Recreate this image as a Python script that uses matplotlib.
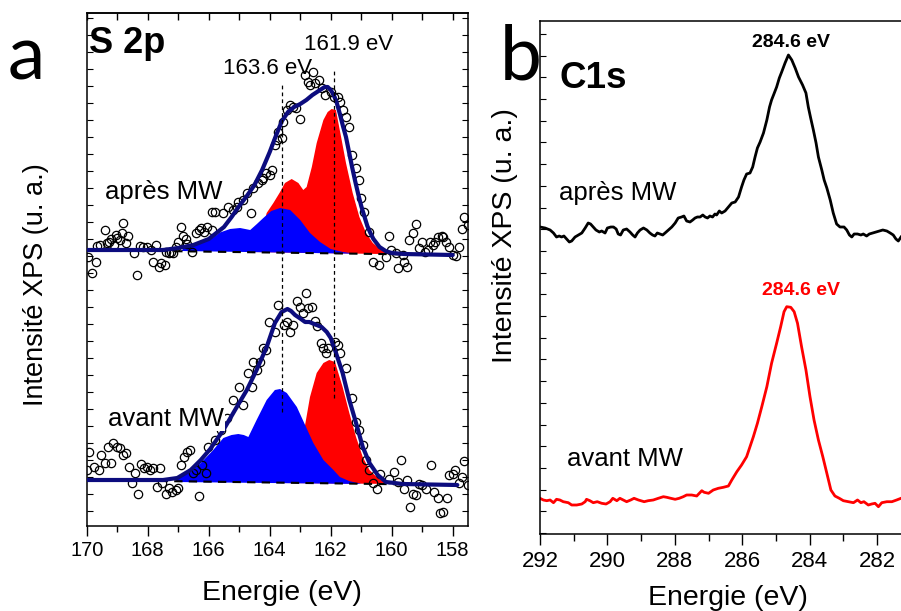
import matplotlib
matplotlib.use('Agg')
import matplotlib.pyplot as plt
from matplotlib.ticker import MultipleLocator

plt.rcParams['font.family'] = ['Liberation Sans', 'DejaVu Sans']

# ---------------- Panel a : S 2p ----------------
# après MW : measured points
apres_E = [169.96, 169.82, 169.70, 169.65, 169.56, 169.41, 169.32, 169.27, 169.19, 169.10,
           169.03, 169.00, 168.90, 168.83, 168.80, 168.72, 168.65, 168.45, 168.34, 168.25,
           168.14, 168.01, 167.90, 167.82, 167.74, 167.63, 167.55, 167.44, 167.41, 167.30,
           167.25, 167.16, 167.08, 167.00, 166.92, 166.83, 166.75, 166.70, 166.54, 166.43,
           166.32, 166.24, 166.15, 166.05, 165.90, 165.88, 165.79, 165.52, 165.36, 165.19,
           165.08, 165.03, 164.87, 164.75, 164.62, 164.54, 164.37, 164.26, 164.21, 164.12,
           163.99, 163.93, 163.83, 163.77, 163.72, 163.61, 163.55, 163.42, 163.33, 163.23,
           163.14, 163.00, 162.84, 162.73, 162.68, 162.57, 162.51, 162.40, 162.30, 162.19,
           162.00, 161.90, 161.77, 161.70, 161.59, 161.50, 161.41, 161.30, 161.17, 161.08,
           161.01, 160.90, 160.75, 160.60, 160.43, 160.19, 160.10, 160.02, 159.86, 159.80,
           159.64, 159.59, 159.51, 159.42, 159.31, 159.20, 159.11, 159.01, 158.90, 158.82,
           158.73, 158.66, 158.57, 158.49, 158.35, 158.31, 158.22, 158.11, 157.98, 157.89,
           157.80, 157.70, 157.62, 157.51]
apres_I = [271, 255, 266, 282, 283, 298, 285, 286, 289, 283,
           293, 290, 288, 295, 305, 285, 292, 275, 253, 282,
           281, 281, 278, 266, 283, 261, 265, 263, 276, 275,
           276, 275, 281, 286, 301, 292, 289, 284, 276, 295,
           298, 300, 296, 301, 298, 316, 316, 315, 321, 318,
           321, 326, 328, 335, 315, 340, 345, 348, 350, 355,
           353, 358, 383, 388, 396, 390, 406, 418, 423, 421,
           420, 409, 453, 446, 443, 456, 445, 448, 440, 433,
           436, 431, 431, 426, 418, 411, 401, 373, 360, 348,
           330, 316, 296, 266, 263, 271, 292, 278, 275, 260,
           273, 266, 261, 288, 295, 304, 280, 286, 276, 278,
           286, 283, 286, 291, 292, 291, 286, 281, 273, 272,
           281, 299, 311, 303]

# après MW : fitted envelope
apres_env_E = [170.0, 167.5, 167.0, 166.5, 166.0, 165.5, 165.25, 165.0, 164.75, 164.5,
               164.25, 164.0, 163.8, 163.6, 163.4, 163.2, 163.0, 162.8, 162.6, 162.4,
               162.2, 162.1, 162.0, 161.9, 161.8, 161.7, 161.6, 161.5, 161.4, 161.3,
               161.2, 161.1, 161.0, 160.9, 160.8, 160.7, 160.6, 160.4, 160.2, 160.0,
               159.6, 158.0]
apres_env_I = [278, 278, 280, 283, 289, 301, 311, 322, 332, 343,
               358, 376, 392, 407, 416, 421, 424, 428, 433, 437,
               441, 441, 438, 433, 425, 414, 402, 391, 376, 361,
               347, 334, 322, 312, 302, 295, 289, 281, 277, 275,
               274, 273]

# après MW : red components (161.9 eV doublet)
apres_red_E = [164.6, 164.3, 164.1, 163.88, 163.66, 163.5, 163.28, 163.06, 162.9, 162.79,
               162.62, 162.46, 162.24, 162.1, 161.97, 161.83, 161.66, 161.5, 161.28, 161.06,
               160.84, 160.62, 160.3, 159.97, 159.5]
apres_red_I = [276, 290, 315, 325, 336, 345, 349, 345, 338, 341,
               361, 385, 408, 416, 419, 418, 391, 365, 335, 311,
               295, 285, 277, 275, 273.6]

# après MW : blue components (163.6 eV doublet)
apres_blue_E = [166.9, 166.81, 166.5, 166.15, 165.83, 165.63, 165.3, 164.97, 164.64, 164.42,
                164.21, 163.95, 163.66, 163.33, 163.0, 162.68, 162.35, 162.0, 161.6, 161.2]
apres_blue_I = [277, 280, 283, 286, 291, 295.5, 299, 300, 298, 304,
                310, 317, 320, 318, 308, 295, 286, 279, 276, 274.3]

apres_base_E = [170.0, 158.0]
apres_base_I = [278, 273]

# avant MW : measured points
avant_E = [169.98, 169.92, 169.76, 169.60, 169.52, 169.41, 169.30, 169.21, 169.13, 169.02,
           168.91, 168.80, 168.72, 168.61, 168.50, 168.43, 168.32, 168.21, 168.12, 168.03,
           167.92, 167.82, 167.70, 167.60, 167.52, 167.41, 167.30, 167.19, 167.08, 167.01,
           166.92, 166.81, 166.70, 166.61, 166.50, 166.43, 166.32, 166.21, 166.10, 166.02,
           165.80, 165.60, 165.40, 165.20, 165.00, 164.89, 164.70, 164.59, 164.54, 164.43,
           164.32, 164.21, 164.12, 164.01, 163.83, 163.72, 163.53, 163.42, 163.33, 163.23,
           163.11, 163.00, 162.90, 162.81, 162.73, 162.62, 162.51, 162.44, 162.33, 162.24,
           162.15, 162.08, 161.86, 161.77, 161.70, 161.50, 161.30, 161.17, 161.08, 160.95,
           160.85, 160.75, 160.62, 160.49, 160.38, 160.08, 159.91, 159.80, 159.69, 159.61,
           159.51, 159.40, 159.29, 159.20, 159.10, 159.01, 158.88, 158.71, 158.60, 158.49,
           158.42, 158.31, 158.20, 158.11, 158.00, 157.91, 157.80, 157.70, 157.62, 157.51]
avant_I = [58, 76, 61, 58, 73, 65, 81, 65, 85, 81,
           80, 73, 75, 61, 45, 55, 34, 64, 60, 61,
           58, 60, 41, 60, 45, 34, 40, 36, 38, 40,
           63, 71, 76, 78, 55, 58, 32, 63, 55, 81,
           88, 98, 110, 128, 141, 123, 155, 141, 166, 158,
           166, 180, 178, 206, 196, 223, 203, 206, 196, 203,
           227, 221, 215, 235, 220, 221, 207, 202, 185, 180,
           175, 180, 186, 183, 175, 160, 130, 106, 98, 83,
           68, 58, 45, 39, 54, 49, 56, 46, 68, 39,
           48, 21, 34, 33, 44, 43, 39, 63, 36, 30,
           15, 16, 30, 53, 54, 58, 45, 51, 67, 43]

avant_env_E = [170.0, 167.5, 167.03, 166.59, 166.26, 165.95, 165.52, 165.08, 164.75, 164.43,
               164.1, 163.83, 163.61, 163.42, 163.3, 163.17, 163.0, 162.84, 162.7, 162.46,
               162.3, 162.13, 162.0, 161.86, 161.61, 161.39, 161.17, 160.95, 160.73, 160.46,
               160.19, 159.64, 157.85]
avant_env_I = [48, 48, 50, 58, 68, 79, 98, 121, 138, 158,
               181, 205, 216, 219, 217, 213, 209.5, 206, 206, 203,
               201, 196, 190, 178, 155, 128, 105, 81, 65, 53,
               46, 44, 43]

avant_red_E = [163.6, 163.2, 163.0, 162.84, 162.68, 162.46, 162.24, 162.05, 161.86, 161.61,
               161.39, 161.17, 160.95, 160.73, 160.46, 160.19, 159.8]
avant_red_I = [45, 65, 85, 103, 131, 155, 165, 168, 166, 141,
               115, 91, 71, 58, 50, 45, 44]

avant_blue_E = [167.1, 167.03, 166.59, 166.26, 165.88, 165.52, 165.25, 165.03, 164.85, 164.7,
                164.43, 164.1, 163.83, 163.66, 163.44, 163.11, 162.84, 162.57, 162.24, 161.91,
                161.7, 161.4, 161.0]
avant_blue_I = [46, 50, 56, 65, 77, 90, 93, 94, 93, 91,
                108, 128, 138, 139, 135, 121, 103, 85, 68, 58,
                51, 47, 44]

avant_base_E = [170.0, 158.0]
avant_base_I = [48, 43]

peak_lines_E = [163.6, 161.9]
peak_lines_top = [446, 460]
peak_lines_bottom = [116, 130]

ticks_a = [170, 168, 166, 164, 162, 160, 158]

# ---------------- Panel b : C1s ----------------
c1s_apres_E = [292.00, 291.85, 291.70, 291.60, 291.51, 291.43, 291.36, 291.29, 291.21, 291.13,
               291.06, 290.96, 290.86, 290.76, 290.66, 290.57, 290.50, 290.42, 290.34, 290.24,
               290.17, 290.07, 290.00, 289.90, 289.82, 289.74, 289.68, 289.61, 289.53, 289.43,
               289.33, 289.25, 289.18, 289.11, 289.03, 288.93, 288.83, 288.74, 288.66, 288.59,
               288.52, 288.44, 288.36, 288.29, 288.19, 288.09, 287.99, 287.90, 287.80, 287.73,
               287.65, 287.55, 287.47, 287.40, 287.33, 287.25, 287.17, 287.10, 287.03, 286.96,
               286.88, 286.81, 286.76, 286.68, 286.61, 286.51, 286.41, 286.31, 286.21, 286.11,
               286.02, 285.95, 285.87, 285.77, 285.69, 285.62, 285.55, 285.47, 285.37, 285.27,
               285.19, 285.13, 285.06, 284.98, 284.90, 284.83, 284.73, 284.63, 284.53, 284.43,
               284.33, 284.21, 284.11, 284.04, 283.97, 283.89, 283.81, 283.74, 283.64, 283.57,
               283.49, 283.39, 283.30, 283.20, 283.10, 282.98, 282.90, 282.82, 282.75, 282.68,
               282.58, 282.48, 282.41, 282.31, 282.23, 282.13, 282.03, 281.93, 281.83, 281.71,
               281.61, 281.52, 281.44, 281.37, 281.29]
c1s_apres_I = [306, 305, 303, 300, 296, 297, 296, 297, 294, 291,
               292, 296, 298, 300, 305, 310, 309, 306, 303, 301,
               302, 300, 305, 306, 306, 304, 299, 298, 303, 304,
               301, 298, 296, 300, 303, 305, 303, 300, 298, 297,
               300, 299, 298, 300, 303, 306, 310, 315, 316, 317,
               312, 311, 313, 315, 316, 316, 318, 316, 315, 317,
               316, 319, 318, 322, 320, 322, 326, 330, 331, 336,
               346, 353, 359, 360, 366, 376, 385, 391, 400, 413,
               426, 433, 439, 446, 455, 461, 470, 478, 473, 465,
               456, 448, 440, 426, 415, 403, 390, 376, 363, 353,
               345, 333, 320, 309, 306, 306, 303, 298, 296, 299,
               299, 298, 299, 297, 299, 300, 301, 302, 303, 302,
               300, 298, 294, 292, 296]

c1s_avant_E = [292.00, 291.90, 291.80, 291.70, 291.60, 291.51, 291.41, 291.31, 291.16, 291.06,
               290.91, 290.76, 290.66, 290.62, 290.52, 290.42, 290.30, 290.17, 290.04, 289.92,
               289.84, 289.72, 289.63, 289.53, 289.43, 289.31, 289.21, 289.08, 288.91, 288.79,
               288.64, 288.49, 288.34, 288.24, 288.12, 287.99, 287.87, 287.75, 287.65, 287.50,
               287.35, 287.20, 287.13, 287.00, 286.86, 286.71, 286.56, 286.41, 286.31, 286.16,
               286.02, 285.87, 285.77, 285.67, 285.55, 285.42, 285.27, 285.13, 284.98, 284.86,
               284.76, 284.68, 284.56, 284.46, 284.36, 284.24, 284.11, 283.99, 283.87, 283.74,
               283.61, 283.49, 283.37, 283.25, 283.12, 283.00, 282.85, 282.70, 282.58, 282.48,
               282.39, 282.26, 282.16, 282.06, 281.96, 281.86, 281.71, 281.56, 281.42, 281.29]
c1s_avant_I = [34.7, 33, 32.3, 33, 30.3, 33.7, 33, 31.3, 30.3, 28,
               28, 29, 31.3, 33.7, 32.3, 30.3, 31.3, 29.7, 29, 31.3,
               34.7, 32.3, 34.7, 33, 31.3, 33, 34.7, 33, 31.3, 32.3,
               33, 34.7, 36.3, 35.7, 34.7, 33.7, 34.7, 36.3, 38, 38,
               37, 42.3, 40.7, 39.7, 43, 44.7, 45.7, 47, 53, 61.3,
               68, 76.3, 86.3, 96.3, 109.7, 126.3, 146.3, 169.7, 189.7, 206.3,
               221.3, 226.3, 225.7, 221.3, 209.7, 186.3, 163, 136.3, 113, 93,
               76.3, 59.7, 43, 37, 34.7, 32.3, 31.3, 30.3, 33, 30.3,
               31.3, 28, 29, 29.7, 26.3, 30.3, 31.3, 31.3, 33, 34.7]

ticks_b = [292, 290, 288, 286, 284, 282]

# ---------------- Figure ----------------
W, H = 901, 611
fig = plt.figure(figsize=(W / 100, H / 100), dpi=100)


def rect(l, t, r, b):
    return [l / W, 1 - b / H, (r - l) / W, (b - t) / H]


def ftxt(x, y, s, **kw):
    fig.text(x / W, 1 - y / H, s, **kw)


NAVY = '#0c0c7e'
axa = fig.add_axes(rect(86.7, 13, 468.3, 526))
axa.set_xlim(170, 157.49)
axa.set_ylim(2, 515)

axa.fill(apres_red_E, apres_red_I, color='#ff0000', lw=0, zorder=2)
axa.fill(apres_blue_E, apres_blue_I, color='#0000ff', lw=0, zorder=3)
axa.fill(avant_red_E, avant_red_I, color='#ff0000', lw=0, zorder=2)
axa.fill(avant_blue_E, avant_blue_I, color='#0000ff', lw=0, zorder=3)

for E, I in ((apres_E, apres_I), (avant_E, avant_I)):
    axa.plot(E, I, 'o', mfc='none', mec='black', ms=6.0, mew=0.9, zorder=4)

for E, I in ((apres_base_E, apres_base_I), (avant_base_E, avant_base_I)):
    axa.plot(E, I, color='black', ls=(0, (4, 3)), lw=1.5, zorder=5)

for E, I in ((apres_env_E, apres_env_I), (avant_env_E, avant_env_I)):
    axa.plot(E, I, color=NAVY, lw=3.0, zorder=6, solid_capstyle='round', solid_joinstyle='round')

for e, t, b in zip(peak_lines_E, peak_lines_top, peak_lines_bottom):
    axa.plot([e, e], [b, t], color='black', ls=(0, (3, 2.5)), lw=0.9, zorder=7)

axa.text(164.06, 459, '163.6 eV', fontsize=16, ha='center', va='center', zorder=8)
axa.text(161.40, 484, '161.9 eV', fontsize=16, ha='center', va='center', zorder=8)
axa.text(0.006, 0.922, 'S 2p', transform=axa.transAxes, fontsize=26, fontweight='bold',
         ha='left', va='baseline', zorder=8)
axa.text(0.048, 0.637, 'après MW', transform=axa.transAxes, fontsize=18.5, ha='left',
         va='baseline', zorder=8, bbox=dict(facecolor='white', edgecolor='none', pad=0.5))
axa.text(0.056, 0.1955, 'avant MW', transform=axa.transAxes, fontsize=18.5, ha='left',
         va='baseline', zorder=8, bbox=dict(facecolor='white', edgecolor='none', pad=0.5))

axa.set_xticks(ticks_a)
axa.set_xticklabels([str(t) for t in ticks_a])
axa.xaxis.set_minor_locator(MultipleLocator(1))
axa.tick_params(axis='x', which='major', direction='out', length=7, width=1.0,
                labelsize=14.5, pad=4)
axa.tick_params(axis='x', which='minor', direction='out', length=4, width=1.0)
secx = axa.secondary_xaxis('top')
secx.set_xticks(range(158, 171))
secx.tick_params(axis='x', direction='in', length=5, width=1.0, labeltop=False)
axa.yaxis.set_major_locator(MultipleLocator(17))
axa.tick_params(axis='y', direction='in', length=4, width=0.8, left=True, right=True,
                labelleft=False)
for s in axa.spines.values():
    s.set_linewidth(1.1)
for s in secx.spines.values():
    s.set_linewidth(1.1)

# Panel b
axb = fig.add_axes(rect(540, 21, 901, 534))
axb.set_xlim(292, 281.29)
axb.set_ylim(-1, 512)
axb.plot(c1s_apres_E, c1s_apres_I, color='black', lw=2.0)
axb.plot(c1s_avant_E, c1s_avant_I, color='#ff0000', lw=2.0)
axb.text(0.055, 0.869, 'C1s', transform=axb.transAxes, fontsize=26.5, fontweight='bold',
         ha='left', va='baseline')
axb.text(0.052, 0.652, 'après MW', transform=axb.transAxes, fontsize=18.5, ha='left',
         va='baseline')
axb.text(0.074, 0.1326, 'avant MW', transform=axb.transAxes, fontsize=18.5, ha='left',
         va='baseline')
axb.text(0.695, 0.950, '284.6 eV', transform=axb.transAxes, fontsize=14, fontweight='bold',
         ha='center', va='baseline', color='black')
axb.text(0.723, 0.466, '284.6 eV', transform=axb.transAxes, fontsize=14, fontweight='bold',
         ha='center', va='baseline', color='#ff0000')
axb.set_xticks(ticks_b)
axb.set_xticklabels([str(t) for t in ticks_b])
axb.xaxis.set_minor_locator(MultipleLocator(1))
axb.tick_params(axis='x', which='major', direction='out', length=8, width=1.0,
                labelsize=16, pad=4)
axb.tick_params(axis='x', which='minor', direction='out', length=5, width=1.0)
axb.yaxis.set_major_locator(MultipleLocator(21.7))
axb.tick_params(axis='y', direction='in', length=4, width=0.8, labelleft=False)
axb.spines['right'].set_visible(False)
for s in axb.spines.values():
    s.set_linewidth(1.1)

# Figure labels
ftxt(36, 285, 'Intensité XPS (u. a.)', rotation=90, fontsize=19.5, ha='center', va='center')
ftxt(505, 236, 'Intensité XPS (u. a.)', rotation=90, fontsize=20.5, ha='center', va='center')
ftxt(282, 593, 'Energie (eV)', fontsize=20.5, ha='center', va='center')
ftxt(728, 598, 'Energie (eV)', fontsize=20.5, ha='center', va='center')
ftxt(26.5, 80, 'a', fontsize=54, family=['Lato', 'DejaVu Sans'], ha='center', va='baseline')
ftxt(521, 80, 'b', fontsize=54, family=['Lato', 'DejaVu Sans'], ha='center', va='baseline')

fig.savefig('out.png', dpi=100)
